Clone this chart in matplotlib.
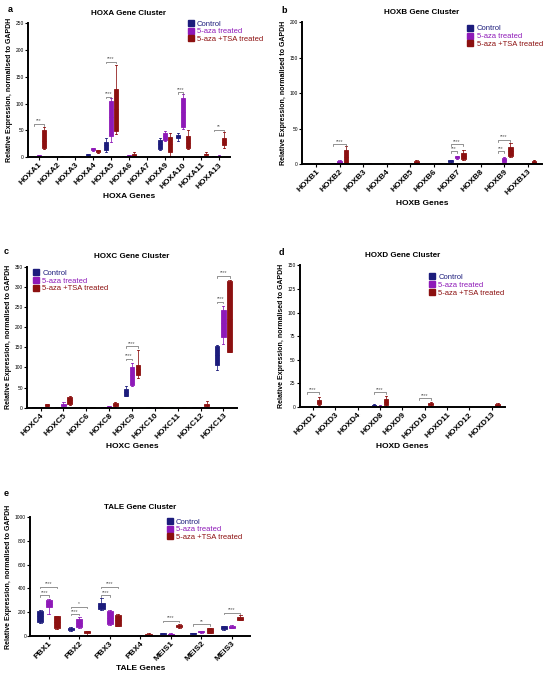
import matplotlib.pyplot as plt
from matplotlib.lines import Line2D

plt.rcParams['font.family'] = ['Liberation Sans', 'DejaVu Sans']

groups = ['Control', '5-aza treated', '5-aza +TSA treated']
colors = ['#1c1c7c', '#8e19b8', '#8c1010']

# box values per gene: (whisker low, q1, median, q3, whisker high)
hoxa_genes = ['HOXA1', 'HOXA2', 'HOXA3', 'HOXA4', 'HOXA5', 'HOXA6', 'HOXA7',
              'HOXA9', 'HOXA10', 'HOXA11', 'HOXA13']
hoxa_ctrl = [(0.2, 0.4, 0.5, 0.7, 1), (0.2, 0.3, 0.4, 0.5, 0.7), (0.2, 0.3, 0.4, 0.5, 0.7),
             (3, 4, 5, 6, 7), (10, 14, 22, 29, 36), (0.5, 1, 1.5, 2, 3), (0.2, 0.3, 0.4, 0.5, 0.7),
             (13, 15, 25, 33, 35), (30, 35, 38, 42, 46), (0.2, 0.3, 0.4, 0.5, 0.7), (0.5, 1, 1.5, 2, 3)]
hoxa_aza = [(1, 2, 3, 4, 5), (0.2, 0.3, 0.4, 0.5, 0.8), (0.2, 0.3, 0.4, 0.5, 0.8),
            (12, 13, 15, 17, 18), (28, 40, 75, 105, 110), (1.5, 2, 3, 4, 5), (0.2, 0.3, 0.5, 0.7, 1),
            (30, 32, 40, 46, 48), (52, 57, 85, 110, 117), (0.5, 1, 1.5, 2, 3), (1, 2, 2.5, 3, 4)]
hoxa_tsa = [(15, 18, 30, 50, 57), (0.5, 0.8, 1, 1.3, 2), (0.3, 0.5, 0.7, 1, 1.5),
            (8, 9, 11, 13, 14), (43, 48, 90, 128, 172), (0, 2, 4, 6, 9), (0.2, 0.3, 0.5, 0.7, 1),
            (3, 10, 25, 37, 45), (15, 18, 27, 39, 50), (3, 4, 5.5, 7, 10), (17, 22, 28, 35, 47)]
hoxa_sig = [(0, 2, 62, '***'), (4, 1, 113, '****'), (4, 2, 178, '****'),
            (8, 1, 121, '****'), (10, 2, 51, '**')]

hoxb_genes = ['HOXB1', 'HOXB2', 'HOXB3', 'HOXB4', 'HOXB5', 'HOXB6', 'HOXB7',
              'HOXB8', 'HOXB9', 'HOXB13']
hoxb_ctrl = [(0.1, 0.2, 0.3, 0.4, 0.5), (0.5, 0.8, 1, 1.3, 1.6), (0.1, 0.2, 0.3, 0.4, 0.5),
             (0.1, 0.2, 0.3, 0.4, 0.5), (0.1, 0.2, 0.3, 0.4, 0.5), (0.1, 0.2, 0.3, 0.4, 0.5),
             (2, 3, 4, 5, 6), (0.1, 0.2, 0.3, 0.4, 0.5), (0.5, 0.8, 1, 1.3, 1.6), (0.1, 0.2, 0.3, 0.4, 0.5)]
hoxb_aza = [(0.1, 0.2, 0.3, 0.4, 0.5), (0.5, 1, 2.5, 4, 6), (0.1, 0.2, 0.3, 0.4, 0.5),
            (0.1, 0.2, 0.3, 0.4, 0.5), (0.2, 0.3, 0.5, 0.7, 1), (0.1, 0.2, 0.3, 0.4, 0.5),
            (7, 8, 9.5, 11, 12), (0.1, 0.2, 0.3, 0.4, 0.5), (2, 3, 5, 8, 10), (0.2, 0.3, 0.5, 0.7, 1)]
hoxb_tsa = [(0.2, 0.3, 0.5, 0.7, 1), (1, 2, 10, 20, 25), (0.2, 0.3, 0.5, 0.7, 1),
            (0.2, 0.3, 0.5, 0.7, 1), (0.5, 1, 2.5, 4, 5), (0.3, 0.5, 0.8, 1, 1.5),
            (5, 7, 11, 15, 20), (0.2, 0.3, 0.5, 0.7, 1), (10, 12, 18, 24, 29), (0.5, 1, 2.5, 4, 5)]
hoxb_sig = [(1, 2, 28, '****'), (6, 1, 18, '***'), (6, 2, 28, '****'),
            (8, 1, 18, '***'), (8, 2, 34, '****')]

hoxc_genes = ['HOXC4', 'HOXC5', 'HOXC6', 'HOXC8', 'HOXC9', 'HOXC10', 'HOXC11',
              'HOXC12', 'HOXC13']
hoxc_ctrl = [(0.2, 0.4, 0.5, 0.7, 1), (0.2, 0.4, 0.5, 0.7, 1), (0.1, 0.2, 0.3, 0.4, 0.5),
             (0.2, 0.4, 0.5, 0.7, 1), (28, 30, 38, 47, 53), (0.2, 0.4, 0.5, 0.7, 1),
             (0.1, 0.2, 0.3, 0.4, 0.5), (0.2, 0.4, 0.5, 0.7, 1), (93, 105, 130, 153, 155)]
hoxc_aza = [(0.2, 0.4, 0.5, 0.7, 1), (1, 3, 6, 10, 15), (0.1, 0.2, 0.3, 0.4, 0.5),
            (0, 1, 2, 3, 5), (55, 57, 80, 102, 110), (0.2, 0.4, 0.5, 0.7, 1),
            (0.1, 0.2, 0.3, 0.4, 0.5), (0.2, 0.4, 0.5, 0.7, 1), (157, 175, 210, 243, 253)]
hoxc_tsa = [(4, 5, 6.5, 8, 9), (6, 8, 18, 27, 30), (0.2, 0.3, 0.4, 0.5, 0.7),
            (2, 4, 7, 11, 14), (73, 80, 95, 107, 142), (1, 1.2, 1.5, 2, 2.5),
            (0.2, 0.3, 0.4, 0.5, 0.7), (1, 3, 6, 10, 16), (137, 138, 220, 315, 318)]
hoxc_sig = [(4, 1, 122, '****'), (4, 2, 152, '****'), (8, 1, 263, '****'), (8, 2, 327, '****')]

hoxd_genes = ['HOXD1', 'HOXD3', 'HOXD4', 'HOXD8', 'HOXD9', 'HOXD10', 'HOXD11',
              'HOXD12', 'HOXD13']
hoxd_ctrl = [(0.1, 0.15, 0.2, 0.3, 0.4), (0.1, 0.15, 0.2, 0.3, 0.4), (0.1, 0.15, 0.2, 0.3, 0.4),
             (0.5, 1, 1.8, 2.5, 3), (0.1, 0.15, 0.2, 0.3, 0.4), (0.1, 0.15, 0.2, 0.3, 0.4),
             (0.1, 0.15, 0.2, 0.3, 0.4), (0.1, 0.15, 0.2, 0.3, 0.4), (0.1, 0.15, 0.2, 0.3, 0.4)]
hoxd_aza = [(0.2, 0.3, 0.5, 0.7, 1), (0.1, 0.15, 0.2, 0.3, 0.4), (0.1, 0.15, 0.2, 0.3, 0.4),
            (0.3, 0.5, 1, 1.5, 2), (0.1, 0.15, 0.2, 0.3, 0.4), (0.2, 0.25, 0.3, 0.4, 0.5),
            (0.1, 0.15, 0.2, 0.3, 0.4), (0.1, 0.15, 0.2, 0.3, 0.4), (0.2, 0.25, 0.3, 0.4, 0.5)]
hoxd_tsa = [(2, 3, 5, 7, 11), (0.1, 0.15, 0.2, 0.3, 0.4), (0.1, 0.15, 0.2, 0.3, 0.4),
            (1, 2, 5, 9, 12), (0.1, 0.15, 0.2, 0.3, 0.4), (1.5, 2, 3, 4, 5),
            (0.1, 0.15, 0.2, 0.3, 0.4), (0.1, 0.15, 0.2, 0.3, 0.4), (0.5, 1, 2, 3, 4)]
hoxd_sig = [(0, 2, 15.5, '****'), (3, 2, 15.5, '****'), (5, 2, 9.5, '****')]

tale_genes = ['PBX1', 'PBX2', 'PBX3', 'PBX4', 'MEIS1', 'MEIS2', 'MEIS3']
tale_ctrl = [(110, 120, 170, 205, 215), (45, 50, 57, 65, 75), (220, 230, 255, 280, 315),
             (0.5, 0.8, 1, 1.5, 2), (12, 15, 18, 22, 25), (12, 15, 20, 25, 28), (50, 55, 68, 80, 85)]
tale_aza = [(180, 240, 270, 300, 310), (70, 75, 110, 140, 160), (95, 100, 150, 205, 215),
            (1, 1.5, 2, 3, 4), (8, 10, 14, 18, 20), (28, 30, 35, 40, 45), (65, 70, 78, 85, 90)]
tale_tsa = [(60, 65, 120, 165, 170), (5, 25, 32, 40, 45), (80, 85, 130, 175, 180),
            (2, 5, 10, 15, 20), (70, 75, 85, 95, 100), (20, 25, 45, 65, 70), (130, 135, 145, 155, 175)]
tale_sig = [(0, 1, 343, '****'), (0, 2, 413, '****'), (1, 1, 184, '****'), (1, 2, 246, '*'),
            (2, 1, 343, '****'), (2, 2, 413, '****'), (4, 2, 126, '****'),
            (5, 2, 98, '**'), (6, 2, 196, '****')]

panels = [
    dict(label='a', title='HOXA Gene Cluster', xlabel='HOXA Genes', genes=hoxa_genes,
         data=[hoxa_ctrl, hoxa_aza, hoxa_tsa], sig=hoxa_sig, ymax=250, ystep=50,
         rect=[0.051, 0.767, 0.367, 0.199], leg=(0.79, 1.02), lab=(-0.09, 1.1)),
    dict(label='b', title='HOXB Gene Cluster', xlabel='HOXB Genes', genes=hoxb_genes,
         data=[hoxb_ctrl, hoxb_aza, hoxb_tsa], sig=hoxb_sig, ymax=200, ystep=50,
         rect=[0.549, 0.757, 0.436, 0.210], leg=(0.69, 0.98), lab=(-0.075, 1.08)),
    dict(label='c', title='HOXC Gene Cluster', xlabel='HOXC Genes', genes=hoxc_genes,
         data=[hoxc_ctrl, hoxc_aza, hoxc_tsa], sig=hoxc_sig, ymax=350, ystep=50,
         rect=[0.049, 0.396, 0.382, 0.209], leg=(0.03, 0.98), lab=(-0.1, 1.11)),
    dict(label='d', title='HOXD Gene Cluster', xlabel='HOXD Genes', genes=hoxd_genes,
         data=[hoxd_ctrl, hoxd_aza, hoxd_tsa], sig=hoxd_sig, ymax=150, ystep=25,
         rect=[0.545, 0.397, 0.373, 0.210], leg=(0.63, 0.94), lab=(-0.09, 1.09)),
    dict(label='e', title='TALE Gene Cluster', xlabel='TALE Genes', genes=tale_genes,
         data=[tale_ctrl, tale_aza, tale_tsa], sig=tale_sig, ymax=1000, ystep=200,
         rect=[0.055, 0.058, 0.400, 0.176], leg=(0.62, 0.99), lab=(-0.11, 1.2)),
]

offsets = [-0.27, 0, 0.27]

fig = plt.figure(figsize=(5.5, 6.75), dpi=100)

for p in panels:
    ax = fig.add_axes(p['rect'])
    n = len(p['genes'])
    for g in range(3):
        stats = []
        for vals in p['data'][g]:
            lo, q1, med, q3, hi = vals
            stats.append(dict(whislo=lo, q1=q1, med=med, q3=q3, whishi=hi, fliers=[]))
        pos = [i + offsets[g] for i in range(n)]
        c = colors[g]
        ax.bxp(stats, positions=pos, widths=0.2, patch_artist=True, showfliers=False,
               boxprops=dict(facecolor=c, edgecolor=c, linewidth=0.6),
               medianprops=dict(color=c, linewidth=0.6),
               whiskerprops=dict(color=c, linewidth=0.7, alpha=0.8),
               capprops=dict(color=c, linewidth=0.7, alpha=0.8),
               capwidths=0.1, manage_ticks=False)

    tick = p['ymax'] * 0.012
    for gi, other, y, txt in p['sig']:
        x0 = gi + offsets[0]
        x1 = gi + offsets[other]
        ax.plot([x0, x0, x1, x1], [y - tick, y, y, y - tick], color='#666666', lw=0.5)
        ax.text((x0 + x1) / 2, y + tick * 0.3, txt, ha='center', va='bottom',
                fontsize=3.5, color='#555555')

    ax.set_xlim(-0.6, n - 0.4)
    ax.set_ylim(0, p['ymax'])
    ax.set_yticks(range(0, p['ymax'] + 1, p['ystep']))
    ax.set_xticks(range(n))
    ax.set_xticklabels(p['genes'], rotation=45, ha='right', rotation_mode='anchor',
                       fontsize=6, fontweight='bold')
    ax.tick_params(axis='y', labelsize=3.5, width=0.8, length=2, pad=1)
    ax.tick_params(axis='x', width=0.8, length=2, pad=1)
    for s in ['top', 'right']:
        ax.spines[s].set_visible(False)
    for s in ['left', 'bottom']:
        ax.spines[s].set_linewidth(1.4)
    ax.set_ylabel('Relative Expression, normalised to GAPDH', fontsize=5,
                  fontweight='bold', labelpad=2)
    ax.set_xlabel(p['xlabel'], fontsize=6, fontweight='bold', labelpad=2)
    ax.set_title(p['title'], fontsize=5.8, fontweight='bold', pad=6)
    ax.text(p['lab'][0], p['lab'][1], p['label'], transform=ax.transAxes, fontsize=6.5,
            fontweight='bold', ha='center', va='center')

    handles = [Line2D([], [], marker='s', ls='none', markersize=4.5, color=c) for c in colors]
    ax.legend(handles, groups, loc='upper left', bbox_to_anchor=p['leg'], frameon=False,
              fontsize=5.5, labelcolor=colors, handlelength=0.8, handletextpad=0.4,
              labelspacing=0.05, borderpad=0, borderaxespad=0)

fig.savefig('out.png', dpi=100)
